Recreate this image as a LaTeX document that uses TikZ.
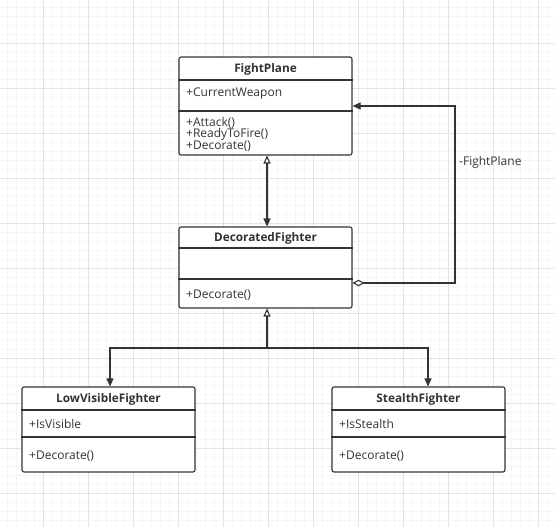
\documentclass[tikz,border=0pt]{standalone}
\usepackage{fontspec}
\setmainfont{Open Sans}
\usetikzlibrary{arrows.meta}
\definecolor{InkGray}{HTML}{333333}
\definecolor{MinorGrid}{HTML}{F5F5F5}
\definecolor{MajorGrid}{HTML}{E3E3E3}

\begin{document}
\begin{tikzpicture}[x=1pt,y=-1pt,font=\fontsize{12}{11.5}\selectfont,
  cls/.style={draw=InkGray,line width=1.1pt,rounded corners=2pt,fill=white,inner sep=0pt},
  ttl/.style={font=\fontsize{11.8}{13}\selectfont\bfseries,text=InkGray,inner sep=0pt},
  mem/.style={anchor=west,align=left,text=InkGray,inner sep=0pt},
  sep/.style={draw=InkGray,line width=1.1pt},
  link/.style={draw=InkGray,line width=1.1pt},
  tip/.tip={Triangle[length=8pt,width=7pt]},
  otip/.tip={Triangle[open,length=8pt,width=7pt,fill=white]}]
\useasboundingbox (0,0) rectangle (555,527);
% background grid
\draw[MinorGrid,line width=.5pt,step=9pt,shift={(-2,-2)}] (0,0) grid (560,530);
\draw[MajorGrid,line width=.6pt,step=45pt,shift={(-2,-2)}] (0,0) grid (560,530);

% FightPlane
\node[cls,minimum width=173,minimum height=98] (fp) at (265.5,106) {};
\draw[sep] (fp.west |- 0,80) -- (fp.east |- 0,80);
\draw[sep] (fp.west |- 0,111) -- (fp.east |- 0,111);
\node[ttl] (fpT) at (265.5,69) {FightPlane};
\node[mem] (fpA) at (186,94) {+CurrentWeapon};
\node[mem] (fpM) at (186,134) {+Attack()\\+ReadyToFire()\\+Decorate()};

% DecoratedFighter
\node[cls,minimum width=173,minimum height=81] (dec) at (265.5,267.5) {};
\draw[sep] (dec.west |- 0,248) -- (dec.east |- 0,248);
\draw[sep] (dec.west |- 0,279) -- (dec.east |- 0,279);
\node[ttl] (decT) at (265.5,238.5) {DecoratedFighter};
\node[mem] (decM) at (186,295.5) {+Decorate()};

% LowVisibleFighter
\node[cls,minimum width=173,minimum height=85] (lv) at (108.5,429.5) {};
\draw[sep] (lv.west |- 0,410) -- (lv.east |- 0,410);
\draw[sep] (lv.west |- 0,437) -- (lv.east |- 0,437);
\node[ttl] (lvT) at (108.5,399) {LowVisibleFighter};
\node[mem] (lvA) at (29,424) {+IsVisible};
\node[mem] (lvM) at (29,456) {+Decorate()};

% StealthFighter
\node[cls,minimum width=173,minimum height=85] (sf) at (418.5,429.5) {};
\draw[sep] (sf.west |- 0,410) -- (sf.east |- 0,410);
\draw[sep] (sf.west |- 0,437) -- (sf.east |- 0,437);
\node[ttl] (sfT) at (418.5,399) {StealthFighter};
\node[mem] (sfA) at (339,424) {+IsStealth};
\node[mem] (sfM) at (339,456) {+Decorate()};

% connectors
\draw[link,{otip}-{tip}] ([xshift=1.5]fp.south) -- ([xshift=1.5]dec.north);
\coordinate (bus) at (267,348);
\draw[link,{otip}-] ([xshift=1.5]dec.south) -- (bus);
\draw[link,-{tip}] (bus) -| ([xshift=1.5]lv.north);
\draw[link,-{tip}] (bus) -| ([xshift=9.5]sf.north);
\coordinate (aggB) at (455,283);
\coordinate (aggT) at (455,106);
\draw[link,{Diamond[open,length=12pt,width=6.5pt,fill=white]}-{tip}]
  (dec.east |- aggB) -- (aggB) -- (aggT) -- (fp.east);
\node[mem] (role) at (459,162) {-FightPlane};
\end{tikzpicture}
\end{document}
